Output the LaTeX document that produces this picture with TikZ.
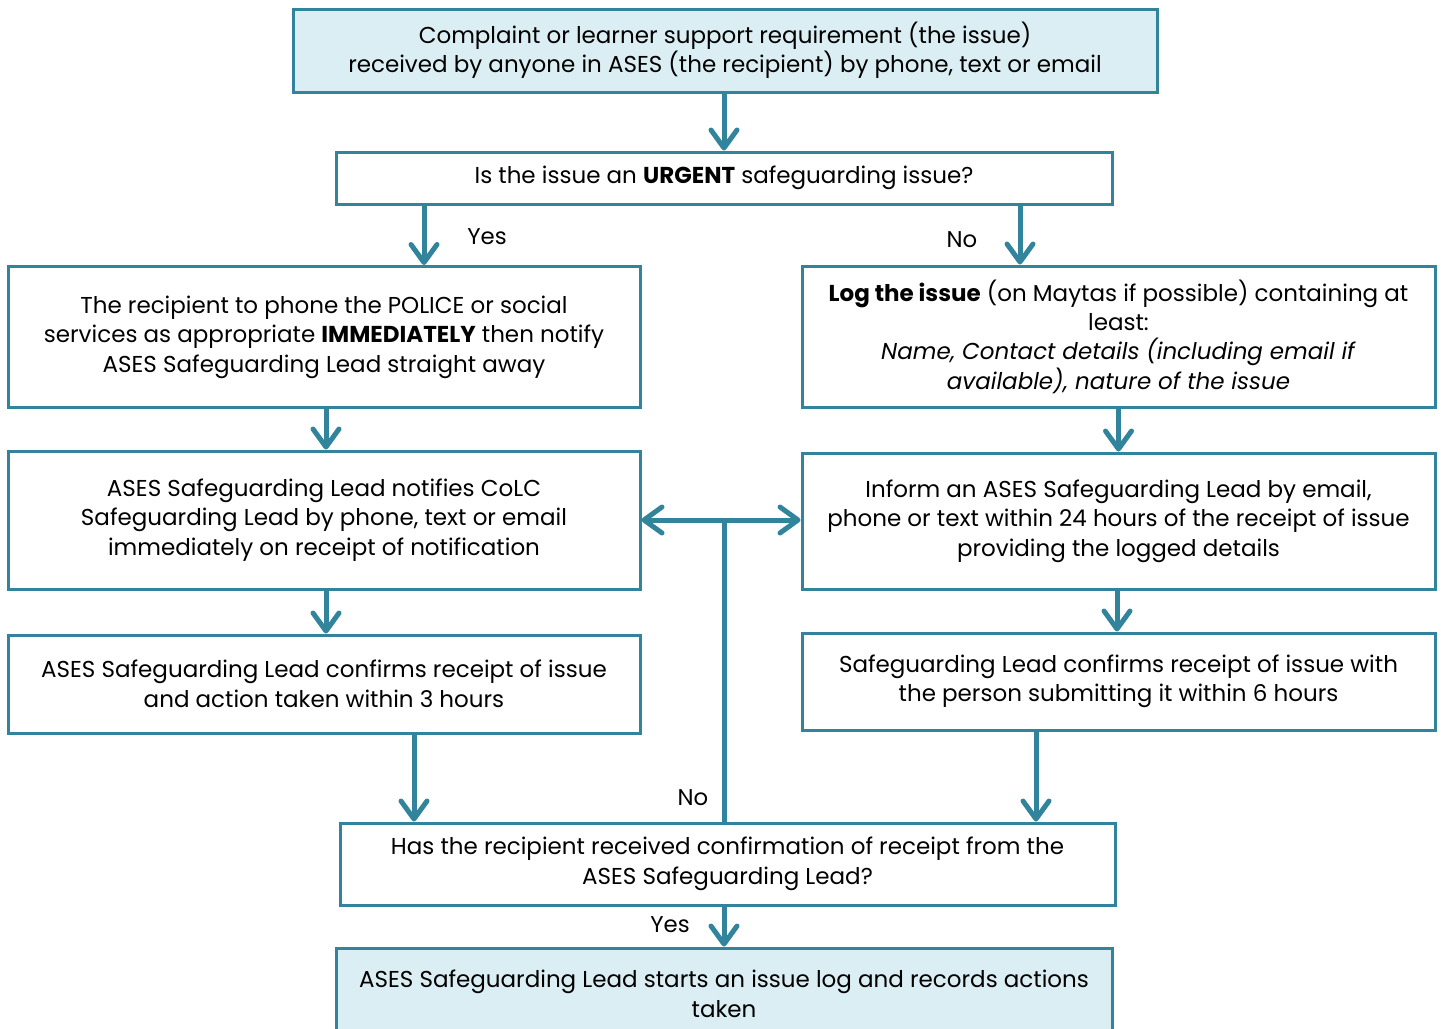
\documentclass[tikz,border=0pt]{standalone}
\usepackage{fontspec}
\setmainfont{Poppins}
\usetikzlibrary{arrows.meta}
\definecolor{flowteal}{RGB}{49,132,155}
\definecolor{flowfill}{RGB}{218,238,243}
\tikzset{
  stepbox/.style={draw=flowteal, line width=1.5pt, align=center, inner sep=2pt,
    font=\fontsize{11.5}{14.7}\selectfont},
  startbox/.style={stepbox, fill=flowfill},
  flow/.style={draw=flowteal, line width=2.5pt,
    -{Straight Barb[round,length=9pt,width=13pt]}},
  both/.style={flow, {Straight Barb[round,length=9pt,width=13pt]}-{Straight Barb[round,length=9pt,width=13pt]}},
  lbl/.style={font=\fontsize{11.4}{14}\selectfont}
}
\begin{document}
\begin{tikzpicture}[x=0.5pt,y=-0.5pt]
\useasboundingbox (0,0) rectangle (1442,1029);

\node (top) [startbox, minimum width=432pt, minimum height=41.5pt] at (725,50.5)
  {Complaint or learner support requirement (the issue)\\
   received by anyone in ASES (the recipient) by phone, text or email};
\node (urgent) [stepbox, minimum width=388pt, minimum height=26pt] at (724,178)
  {Is the issue an \textbf{URGENT} safeguarding issue?};

% urgent side
\node (left1) [stepbox, minimum width=316pt, minimum height=70.5pt] at (324,337)
  {The recipient to phone the POLICE or social\\
   services as appropriate \textbf{IMMEDIATELY} then notify\\
   ASES Safeguarding Lead straight away};
\node (left2) [stepbox, minimum width=316pt, minimum height=69pt] at (324,520)
  {ASES Safeguarding Lead notifies CoLC\\
   Safeguarding Lead by phone, text or email\\
   immediately on receipt of notification};
\node (left3) [stepbox, minimum width=316pt, minimum height=49pt] at (324,684)
  {ASES Safeguarding Lead confirms receipt of issue\\
   and action taken within 3 hours};

% non urgent side
\node (right1) [stepbox, minimum width=316.5pt, minimum height=70.5pt] at (1118.5,336.5)
  {\textbf{Log the issue} (on Maytas if possible) containing at\\
   least:\\
   \textit{Name, Contact details (including email if}\\
   \textit{available), nature of the issue}};
\node (right2) [stepbox, minimum width=316.5pt, minimum height=68pt] at (1118.5,521)
  {Inform an ASES Safeguarding Lead by email,\\
   phone or text within 24 hours of the receipt of issue\\
   providing the logged details};
\node (right3) [stepbox, minimum width=316.5pt, minimum height=48.5pt] at (1118.5,681.5)
  {Safeguarding Lead confirms receipt of issue with\\
   the person submitting it within 6 hours};

\node (confirm) [stepbox, minimum width=387.5pt, minimum height=41pt] at (727.5,864)
  {Has the recipient received confirmation of receipt from the\\
   ASES Safeguarding Lead?};
\node (final) [startbox, minimum width=388pt, minimum height=46pt] at (724,994)
  {ASES Safeguarding Lead starts an issue log and records actions\\
   taken};

\coordinate (junc) at (724,520);

\draw [flow] (top.south -| junc) -- (urgent.north -| junc);
\draw [flow] (urgent.south -| 424,0) -- (left1.north -| 424,0);
\draw [flow] (urgent.south -| 1020,0) -- (right1.north -| 1020,0);
\draw [flow] (left1.south -| 326,0) -- (left2.north -| 326,0);
\draw [flow] (left2.south -| 326,0) -- (left3.north -| 326,0);
\draw [flow] (right1) -- (right2);
\draw [flow] (right2.south -| 1117,0) -- (right3.north -| 1117,0);
\draw [flow] (left3.south -| 414,0) -- (confirm.north -| 414,0);
\draw [flow] (right3.south -| 1036,0) -- (confirm.north -| 1036,0);
\draw [flow, -] (confirm.north -| junc) -- (junc);
\draw [both] (left2.east |- junc) -- (right2.west |- junc);
\draw [flow] (confirm.south -| junc) -- (final.north -| junc);

\node (yes1) [lbl] at (487,237) {Yes};
\node (no1) [lbl] at (962,240) {No};
\node (no2) [lbl] at (693,798) {No};
\node (yes2) [lbl] at (670,925) {Yes};
\end{tikzpicture}
\end{document}
